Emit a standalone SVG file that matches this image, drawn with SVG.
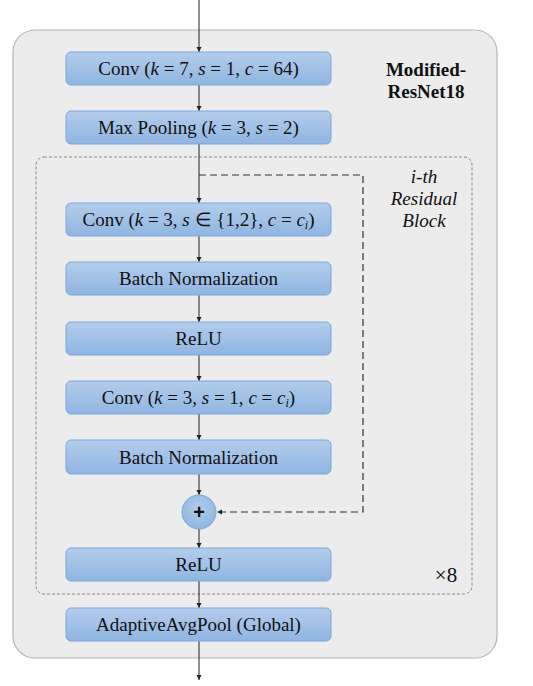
<svg xmlns="http://www.w3.org/2000/svg" width="533" height="686" viewBox="0 0 533 686" font-family="'Liberation Serif', 'Times New Roman', serif" font-size="19">
<style>
.lbl{text-anchor:middle;fill:#111;}
.box{fill:url(#g);stroke:#7aa7dc;stroke-width:1;}
.ln{stroke:#222;stroke-width:1;fill:none;marker-end:url(#a);}
.dash{stroke:#333;stroke-width:1.2;fill:none;stroke-dasharray:7,4;}
</style>
<defs>
<linearGradient id="g" x1="0" y1="0" x2="0" y2="1">
<stop offset="0" stop-color="#b3cdeb"/>
<stop offset="1" stop-color="#8fb5e2"/>
</linearGradient>
<radialGradient id="rg" cx="0.5" cy="0.4" r="0.6">
<stop offset="0" stop-color="#b3cdeb"/>
<stop offset="1" stop-color="#8fb5e2"/>
</radialGradient>
<marker id="a" markerWidth="6" markerHeight="6" refX="5" refY="3" orient="auto" markerUnits="userSpaceOnUse">
<path d="M0,0.5 L5,3 L0,5.5 Z" fill="#222"/>
</marker>
</defs>
<rect x="13" y="30" width="484" height="628" rx="22" fill="#ececec" stroke="#b5b5b5" stroke-width="1.2"/>
<rect id="residual-block" x="36" y="157" width="436" height="437" rx="8" fill="none" stroke="#888" stroke-width="1" stroke-dasharray="3,2"/>
<g id="title"><text x="426" y="76" class="lbl" font-weight="bold">Modified-</text><text x="426" y="98" class="lbl" font-weight="bold">ResNet18</text></g>
<g id="block-label"><text x="424" y="183" class="lbl" font-style="italic">i-th</text><text x="424" y="205" class="lbl" font-style="italic">Residual</text><text x="424" y="227" class="lbl" font-style="italic">Block</text></g>
<text x="446" y="582" class="lbl" font-size="21">×8</text>
<g id="connectors">
<line x1="199" y1="0" x2="199" y2="52" class="ln"/>
<line x1="199" y1="85" x2="199" y2="111" class="ln"/>
<line x1="199" y1="144" x2="199" y2="203" class="ln"/>
<line x1="199" y1="236" x2="199" y2="262" class="ln"/>
<line x1="199" y1="295" x2="199" y2="322" class="ln"/>
<line x1="199" y1="355" x2="199" y2="381" class="ln"/>
<line x1="199" y1="414" x2="199" y2="440" class="ln"/>
<line x1="199" y1="474" x2="199" y2="495" class="ln"/>
<line x1="199" y1="529" x2="199" y2="548" class="ln"/>
<line x1="199" y1="581" x2="199" y2="608" class="ln"/>
<line x1="199" y1="641" x2="199" y2="680" class="ln"/>
<path d="M199,175 H363 V512 H217" class="dash" marker-end="url(#a)"/>
</g>
<g id="conv1"><rect x="66" y="52" width="265" height="33" rx="5" class="box"/><text x="198.5" y="75" class="lbl">Conv (<tspan font-style="italic">k</tspan> = 7, <tspan font-style="italic">s</tspan> = 1, <tspan font-style="italic">c</tspan> = 64)</text></g>
<g id="maxpool"><rect x="66" y="111" width="265" height="33" rx="5" class="box"/><text x="198.5" y="134" class="lbl">Max Pooling (<tspan font-style="italic">k</tspan> = 3, <tspan font-style="italic">s</tspan> = 2)</text></g>
<g id="conv2"><rect x="66" y="203" width="265" height="33" rx="5" class="box"/><text x="198.5" y="226" class="lbl">Conv (<tspan font-style="italic">k</tspan> = 3, <tspan font-style="italic">s</tspan> ∈ {1,2}, <tspan font-style="italic">c</tspan> = <tspan font-style="italic">c</tspan><tspan font-style="italic" font-size="12" dy="3">i</tspan><tspan dy="-3">)</tspan></text></g>
<g id="bn1"><rect x="66" y="262" width="265" height="33" rx="5" class="box"/><text x="198.5" y="285" class="lbl">Batch Normalization</text></g>
<g id="relu1"><rect x="66" y="322" width="265" height="33" rx="5" class="box"/><text x="198.5" y="345" class="lbl">ReLU</text></g>
<g id="conv3"><rect x="66" y="381" width="265" height="33" rx="5" class="box"/><text x="198.5" y="404" class="lbl">Conv (<tspan font-style="italic">k</tspan> = 3, <tspan font-style="italic">s</tspan> = 1, <tspan font-style="italic">c</tspan> = <tspan font-style="italic">c</tspan><tspan font-style="italic" font-size="12" dy="3">i</tspan><tspan dy="-3">)</tspan></text></g>
<g id="bn2"><rect x="66" y="440" width="265" height="34" rx="5" class="box"/><text x="198.5" y="463.5" class="lbl">Batch Normalization</text></g>
<g id="add"><circle cx="199" cy="512" r="17" fill="url(#rg)" stroke="#7aa7dc"/><text x="199" y="519" class="lbl" font-family="'Liberation Sans', Arial, sans-serif" font-weight="bold" font-size="20">+</text></g>
<g id="relu2"><rect x="66" y="548" width="265" height="33" rx="5" class="box"/><text x="198.5" y="571" class="lbl">ReLU</text></g>
<g id="avgpool"><rect x="66" y="608" width="265" height="33" rx="5" class="box"/><text x="198.5" y="631" class="lbl">AdaptiveAvgPool (Global)</text></g>
</svg>
